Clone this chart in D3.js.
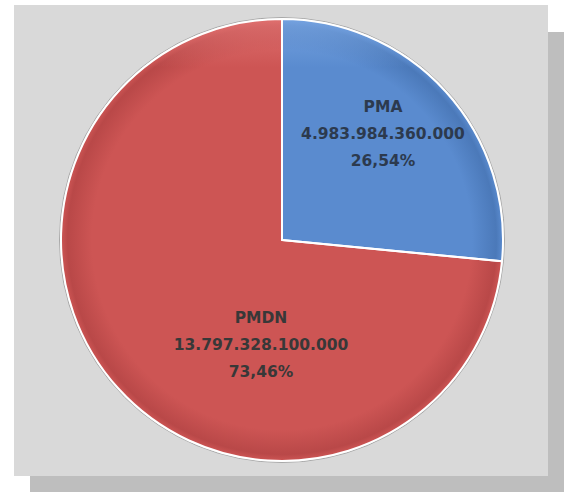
<!DOCTYPE html>
<html>
<head>
<meta charset="utf-8">
<script src="https://cdn.jsdelivr.net/npm/d3@7"></script>
<style>
  body { margin: 0; background: #fff; }
  svg { display: block; }
</style>
</head>
<body>
<div id="chart-area"></div>
<script>
// pie of investment value, PMA vs PMDN
const categories = ["PMA", "PMDN"]
const values = [4983984360000, 13797328100000]
const valueLabels = ["4.983.984.360.000", "13.797.328.100.000"]
const percentLabels = ["26,54%", "73,46%"]

const WIDTH = 566
const HEIGHT = 493
const CX = 282
const CY = 240
const RADIUS = 221

const colors = ["#5a8bcf", "#cd5554"]
const lightColors = ["#79a6e3", "#e27473"]
const darkColors = ["#4b79b9", "#b94848"]
const textColors = ["#2c3a4e", "#383838"]
// label block centres (middle line), set per slice
const labelCentres = [[383, 134], [261, 345]]

const svg = d3.select("#chart-area").append("svg")
  .attr("width", WIDTH)
  .attr("height", HEIGHT)

const defs = svg.append("defs")

// gradients are in the pie group's local space (origin = pie centre)
colors.forEach((c, i) => {
  const rg = defs.append("radialGradient")
    .attr("id", "grad" + i)
    .attr("gradientUnits", "userSpaceOnUse")
    .attr("cx", 0).attr("cy", 0).attr("r", RADIUS)
  rg.append("stop").attr("offset", "0%").attr("stop-color", c)
  rg.append("stop").attr("offset", "86%").attr("stop-color", c)
  rg.append("stop").attr("offset", "97%").attr("stop-color", darkColors[i])
  rg.append("stop").attr("offset", "100%").attr("stop-color", c)

  const lg = defs.append("linearGradient")
    .attr("id", "shine" + i)
    .attr("gradientUnits", "userSpaceOnUse")
    .attr("x1", 0).attr("y1", -RADIUS).attr("x2", 0).attr("y2", 0)
  lg.append("stop").attr("offset", "0%").attr("stop-color", lightColors[i]).attr("stop-opacity", 0.85)
  lg.append("stop").attr("offset", "22%").attr("stop-color", lightColors[i]).attr("stop-opacity", 0)
})

// shadow + panel
svg.append("rect")
  .attr("x", 30).attr("y", 32)
  .attr("width", 534).attr("height", 460)
  .attr("fill", "#bebebe")

svg.append("rect")
  .attr("x", 14).attr("y", 5)
  .attr("width", 534).attr("height", 471)
  .attr("fill", "#d9d9d9")

const g = svg.append("g")
  .attr("transform", `translate(${CX}, ${CY})`)

const pie = d3.pie().sort(null)
const arcs = pie(values)

const arc = d3.arc().innerRadius(0).outerRadius(RADIUS)

// faint outer ring
g.append("circle")
  .attr("r", RADIUS + 1.5)
  .attr("fill", "none")
  .attr("stroke", "#a8a8a8")
  .attr("stroke-width", 1)

g.selectAll("path.slice")
  .data(arcs)
  .enter().append("path")
  .attr("class", "slice")
  .attr("d", arc)
  .attr("fill", (d, i) => `url(#grad${i})`)

g.selectAll("path.shine")
  .data(arcs)
  .enter().append("path")
  .attr("class", "shine")
  .attr("d", arc)
  .attr("fill", (d, i) => `url(#shine${i})`)

g.selectAll("path.edge")
  .data(arcs)
  .enter().append("path")
  .attr("class", "edge")
  .attr("d", arc)
  .attr("fill", "none")
  .attr("stroke", "#fff")
  .attr("stroke-width", 2)
  .attr("stroke-linejoin", "round")

// labels
const labels = svg.append("g").selectAll("text")
  .data(categories)
  .enter().append("text")
  .attr("text-anchor", "middle")
  .attr("font-family", "'DejaVu Sans', sans-serif")
  .attr("font-weight", "bold")
  .attr("font-size", "15.5px")
  .attr("fill", (d, i) => textColors[i])

labels.each(function (d, i) {
  const t = d3.select(this)
  const [lx, ly] = labelCentres[i]
  const lines = [d, valueLabels[i], percentLabels[i]]
  lines.forEach((s, j) => {
    t.append("tspan")
      .attr("x", lx)
      .attr("y", ly + (j - 1) * 27 + 5)
      .text(s)
  })
})
</script>
</body>
</html>
